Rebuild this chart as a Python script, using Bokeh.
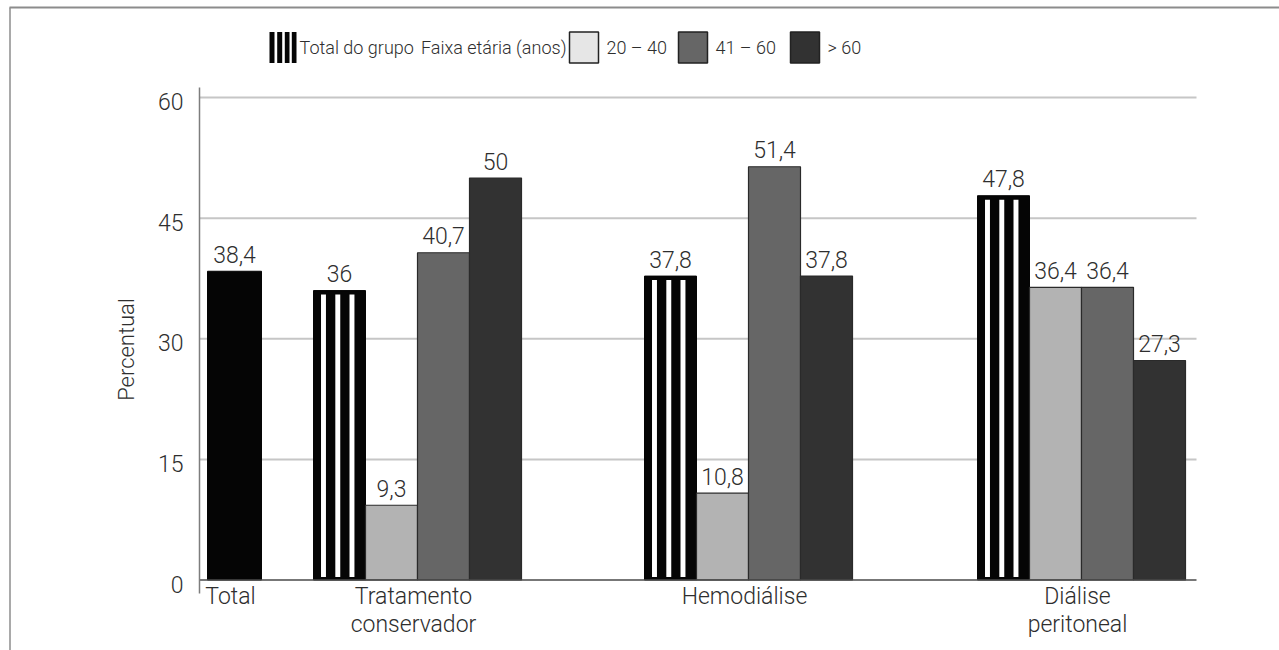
import math
from bokeh.plotting import figure
from bokeh.models import Range1d
from bokeh.core.properties import value
from bokeh.embed import file_html
from bokeh.resources import INLINE

# ---------------- data ----------------
categories = ["Total", "Tratamento conservador", "Hemodiálise", "Diálise peritoneal"]
category_lines = [["Total"], ["Tratamento", "conservador"], ["Hemodiálise"], ["Diálise", "peritoneal"]]
total_value = [38.4]
grupo_total = [36.0, 37.8, 47.8]      # Total do grupo (striped)
faixa_20_40 = [9.3, 10.8, 36.4]
faixa_41_60 = [40.7, 51.4, 36.4]
faixa_60 = [50.0, 37.8, 27.3]
y_ticks = [0, 15, 30, 45, 60]
legend_labels = ["Total do grupo", "Faixa etária (anos)", "20 – 40", "41 – 60", "> 60"]
y_title = "Percentual"

# ---------------- layout helpers ----------------
W, H = 1279, 650
X0_PX, BAR_PX = 199.0, 52.0
Y0_PX, UNIT_PX = 579.5, 8.04


def px2x(px):
    return (px - X0_PX) / BAR_PX


def px2y(py):
    return (Y0_PX - py) / UNIT_PX


def fmt(v):
    return f"{v:g}".replace(".", ",")


FONT = value("'Roboto Light', Roboto")
TXT = "#2e2e2e"
FS = "23px"

p = figure(width=W, height=H, output_backend="svg", toolbar_location=None,
           x_range=Range1d(px2x(0), px2x(W)), y_range=Range1d(px2y(H), px2y(0)),
           x_axis_location=None, y_axis_location=None, min_border=0)
p.grid.visible = False
p.outline_line_color = None
p.background_fill_color = "white"
p.border_fill_color = "white"

TOTAL_X = px2x(234)
TOTAL_W = 54 / 52
GROUP_X = [px2x(417), px2x(748), px2x(1081)]
OFFS = [-1.5, -0.5, 0.5, 1.5]
GRID_END = px2x(1196)
STRIPE_OFFS = [-0.308, -0.033, 0.240]
STRIPE_W = 0.095

# frame of the source page
p.segment(x0=[px2x(9)], y0=[px2y(7)], x1=[px2x(W)], y1=[px2y(7)], line_color="#8c8c8c", line_width=2)
p.segment(x0=[px2x(9.5)], y0=[px2y(7)], x1=[px2x(9.5)], y1=[px2y(H)], line_color="#8c8c8c", line_width=1.5)

# gridlines
gl = [t for t in y_ticks if t > 0]
p.segment(x0=[0] * len(gl), x1=[GRID_END] * len(gl), y0=gl, y1=gl, line_color="#c6c6c6", line_width=2)

# bars
p.vbar(x=[TOTAL_X], width=TOTAL_W, top=total_value, bottom=0, fill_color="#050505", line_color="#050505")
striped_x = [g + OFFS[0] for g in GROUP_X]
p.vbar(x=striped_x, width=1, top=grupo_total, bottom=0, fill_color="#050505", line_color="#050505")
sl, sr, sb, st = [], [], [], []
for cx, v in zip(striped_x, grupo_total):
    for o in STRIPE_OFFS:
        sl.append(cx + o - STRIPE_W / 2)
        sr.append(cx + o + STRIPE_W / 2)
        sb.append(0.37)
        st.append(v - 0.5)
p.quad(left=sl, right=sr, bottom=sb, top=st, fill_color="white", line_color=None)

series = [(faixa_20_40, "#b3b3b3"), (faixa_41_60, "#666666"), (faixa_60, "#323232")]
for k, (vals, col) in enumerate(series):
    xs = [g + OFFS[k + 1] for g in GROUP_X]
    p.vbar(x=xs, width=1, top=vals, bottom=0, fill_color=col, line_color="#2a2a2a", line_width=1.2)

# zero line and y axis line
p.segment(x0=[0], x1=[GRID_END], y0=[0], y1=[0], line_color="#4a4a4a", line_width=1.5)
p.segment(x0=[0], x1=[0], y0=[px2y(593)], y1=[px2y(87)], line_color="#7d7d7d", line_width=1.5)

# value labels
lx = [TOTAL_X] + striped_x
lv = total_value + grupo_total
for k, (vals, col) in enumerate(series):
    lx += [g + OFFS[k + 1] for g in GROUP_X]
    lv += vals
p.text(x=lx, y=lv, text=[fmt(v) for v in lv], y_offset=-17, text_align="center",
       text_baseline="alphabetic", text_font=FONT, text_font_size=FS, text_color=TXT)

# y tick labels
p.text(x=[px2x(183)] * len(y_ticks), y=y_ticks, text=[str(t) for t in y_ticks], y_offset=4,
       text_align="right", text_baseline="alphabetic", text_font=FONT, text_font_size=FS, text_color=TXT)

# y title
p.text(x=[px2x(125.5)], y=[px2y(349)], text=[y_title], angle=math.pi / 2, text_align="center",
       text_baseline="alphabetic", text_font=FONT, text_font_size="22px", text_color=TXT)

# category labels
cat_x = [TOTAL_X] + GROUP_X
for line_no, dy in enumerate([16.5, 44]):
    xs, ts = [], []
    for cx, lines in zip(cat_x, category_lines):
        if len(lines) > line_no:
            xs.append(cx)
            ts.append(lines[line_no])
    p.text(x=xs, y=[0] * len(xs), text=ts, x_offset=-4, y_offset=dy, text_align="center",
           text_baseline="alphabetic", text_font=FONT, text_font_size=FS, text_color=TXT)

# legend
LY0, LY1 = px2y(62.5), px2y(31.5)
LYC = px2y(47)
p.quad(left=[px2x(269)], right=[px2x(296)], bottom=[LY0], top=[LY1], fill_color="#050505", line_color=None)
p.quad(left=[px2x(a) for a in (274, 281.7, 289)], right=[px2x(a) for a in (276.7, 284.3, 291.3)],
       bottom=[LY0] * 3, top=[LY1] * 3, fill_color="white", line_color=None)
sw_left = [569, 678, 790]
sw_cols = ["#e6e6e6", "#666666", "#323232"]
p.quad(left=[px2x(a) for a in sw_left], right=[px2x(a + 29) for a in sw_left],
       bottom=[LY0] * 3, top=[LY1] * 3, fill_color=sw_cols, line_color="#222222", line_width=1.5)
LFS = "18px"
p.text(x=[px2x(299)], y=[LYC], text=[legend_labels[0]], text_align="left", text_baseline="middle",
       text_font=FONT, text_font_size=LFS, text_color=TXT)
p.text(x=[px2x(566)], y=[LYC], text=[legend_labels[1]], text_align="right", text_baseline="middle",
       text_font=FONT, text_font_size=LFS, text_color=TXT)
p.text(x=[px2x(a + 37) for a in sw_left], y=[LYC] * 3, text=legend_labels[2:], text_align="left",
       text_baseline="middle", text_font=FONT, text_font_size=LFS, text_color=TXT)

open("out.html", "w").write(file_html(p, INLINE))
